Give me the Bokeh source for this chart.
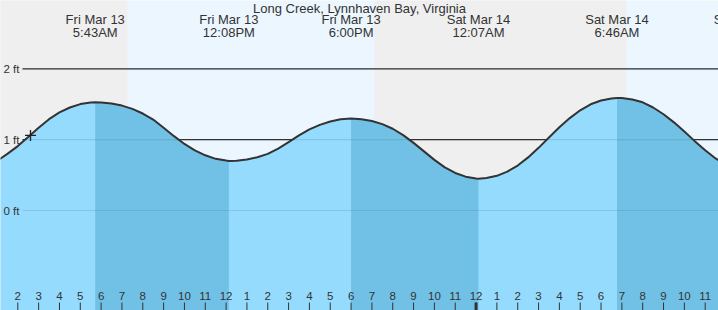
from bokeh.plotting import figure
from bokeh.models import Range1d
from bokeh.core.properties import value
from bokeh.embed import file_html
from bokeh.resources import INLINE

# ---------------- data ----------------
title_text = "Long Creek, Lynnhaven Bay, Virginia"

# hours since Fri Mar 13 00:00
tide_hours = [1.0, 1.5, 2.0, 2.5, 3.0, 3.5, 4.0, 4.5, 5.0, 5.5,
              6.0, 6.5, 7.0, 7.5, 8.0, 8.5, 9.0, 9.5, 10.0, 10.5,
              11.0, 11.5, 12.0, 12.5, 13.0, 13.5, 14.0, 14.5, 15.0, 15.5,
              16.0, 16.5, 17.0, 17.5, 18.0, 18.5, 19.0, 19.5, 20.0, 20.5,
              21.0, 21.5, 22.0, 22.5, 23.0, 23.5, 24.0, 24.5, 25.0, 25.5,
              26.0, 26.5, 27.0, 27.5, 28.0, 28.5, 29.0, 29.5, 30.0, 30.5,
              31.0, 31.5, 32.0, 32.5, 33.0, 33.5, 34.0, 34.5, 35.0, 35.5,
              36.0]
tide_ft = [0.70, 0.80, 0.91, 1.04, 1.17, 1.29, 1.385, 1.455, 1.503, 1.527,
           1.527, 1.512, 1.482, 1.435, 1.37, 1.285, 1.17, 1.05, 0.94, 0.85,
           0.78, 0.73, 0.705, 0.703, 0.72, 0.752, 0.80, 0.875, 0.965, 1.06,
           1.145, 1.21, 1.258, 1.288, 1.30, 1.29, 1.265, 1.22, 1.155, 1.065,
           0.955, 0.835, 0.715, 0.61, 0.53, 0.478, 0.452, 0.458, 0.49, 0.55,
           0.635, 0.75, 0.885, 1.03, 1.175, 1.305, 1.415, 1.50, 1.553, 1.583,
           1.588, 1.568, 1.528, 1.455, 1.36, 1.245, 1.115, 0.98, 0.85, 0.735,
           0.645]

# high / low events (alternating high, low)
event_hours = [5.717, 12.133, 18.0, 24.117, 30.767, 36.933]
event_ft = [1.53, 0.70, 1.30, 0.45, 1.59, 0.58]
event_day = ["Fri Mar 13", "Fri Mar 13", "Fri Mar 13", "Sat Mar 14", "Sat Mar 14", "Sat Mar 14"]
event_time = ["5:43AM", "12:08PM", "6:00PM", "12:07AM", "6:46AM", "12:56PM"]

# sun
sunset_hours = [-4.88, 19.12]
sunrise_hours = [7.27, 31.22]

# current time marker
now_hour = 2.61
now_ft = 1.06

# hour ticks
tick_hours = [2, 3, 4, 5, 6, 7, 8, 9, 10, 11, 12, 13, 14, 15, 16, 17, 18,
              19, 20, 21, 22, 23, 24, 25, 26, 27, 28, 29, 30, 31, 32, 33, 34, 35]
tick_labels = ["2", "3", "4", "5", "6", "7", "8", "9", "10", "11", "12", "1", "2",
               "3", "4", "5", "6", "7", "8", "9", "10", "11", "12", "1", "2", "3",
               "4", "5", "6", "7", "8", "9", "10", "11"]
midnight_hours = [24]

grid_ft = [0, 1, 2]
grid_labels = ["0 ft", "1 ft", "2 ft"]

# ---------------- styles ----------------
W, H = 718, 310
FONT = value("Liberation Sans")
TXT = "#333333"
DAY = "#ECF6FF"
NIGHT = "#EFEFEF"
LIGHT = "#95DBFD"
DARK = "#71C1E6"

X0, X1 = 1.1695, 35.639
Y0, Y1 = -1.412, 2.966

p = figure(width=W, height=H, output_backend="svg", toolbar_location=None,
           x_range=Range1d(X0, X1), y_range=Range1d(Y0, Y1),
           min_border=0, min_border_left=0, min_border_right=0,
           min_border_top=0, min_border_bottom=0)
p.extra_x_ranges = {"px": Range1d(0, W)}
p.extra_y_ranges = {"py": Range1d(H, 0)}
p.axis.visible = False
p.grid.visible = False
p.outline_line_color = None
p.background_fill_color = DAY
p.border_fill_color = DAY

# night shading
p.quad(left=sunset_hours, right=sunrise_hours, bottom=Y0 - 1, top=Y1 + 1,
       fill_color=NIGHT, line_color=None)

# gridlines (behind fill)
gx0 = [22] * len(grid_ft)
gx1 = [W] * len(grid_ft)
p.segment(x0=gx0, x1=gx1, y0=grid_ft, y1=grid_ft, x_range_name="px",
          line_color=TXT, line_width=1.2)

# merged curve
pts = sorted(zip(tide_hours + event_hours, tide_ft + event_ft))
ch = [a for a, b in pts]
cf = [b for a, b in pts]
p.varea(x=ch, y1=[Y0 - 1] * len(ch), y2=cf, fill_color=LIGHT)

for i in range(0, len(event_hours) - 1, 2):
    hs, he = event_hours[i], event_hours[i + 1]
    sx = [a for a, b in pts if hs <= a <= he]
    sy = [b for a, b in pts if hs <= a <= he]
    p.varea(x=sx, y1=[Y0 - 1] * len(sx), y2=sy, fill_color=DARK)

# gridlines seen through the water
p.segment(x0=gx0, x1=gx1, y0=grid_ft, y1=grid_ft, x_range_name="px",
          line_color=TXT, line_width=1.2, line_alpha=0.13)

p.line(ch, cf, line_color="#333333", line_width=2)

p.scatter([now_hour], [now_ft], marker="cross", size=11, line_color="#222222",
          line_width=1.3)

# hour ticks + labels
p.segment(x0=tick_hours, x1=tick_hours, y0=[302] * len(tick_hours),
          y1=[311] * len(tick_hours), y_range_name="py", line_color=TXT, line_width=1)
p.segment(x0=midnight_hours, x1=midnight_hours, y0=[302], y1=[311],
          y_range_name="py", line_color=TXT, line_width=3)
p.text(x=tick_hours, y=[295.5] * len(tick_hours), text=tick_labels, y_range_name="py",
       text_font=FONT, text_font_size=value("11.5px"), text_color=TXT,
       text_align="center", text_baseline="middle")

# y labels
p.text(x=[3] * len(grid_ft), y=grid_ft, text=grid_labels, x_range_name="px",
       text_font=FONT, text_font_size=value("11.5px"), text_color=TXT,
       text_align="left", text_baseline="middle")

# event labels
p.text(x=event_hours, y=[19] * len(event_hours), text=event_day, y_range_name="py",
       text_font=FONT, text_font_size=value("13px"), text_color=TXT,
       text_align="center", text_baseline="middle")
p.text(x=event_hours, y=[32] * len(event_hours), text=event_time, y_range_name="py",
       text_font=FONT, text_font_size=value("13px"), text_color=TXT,
       text_align="center", text_baseline="middle")

# title
p.text(x=[W / 2], y=[7.5], text=[title_text], x_range_name="px", y_range_name="py",
       text_font=FONT, text_font_size=value("13px"), text_color=TXT,
       text_align="center", text_baseline="middle")

open("out.html", "w").write(file_html(p, INLINE))
